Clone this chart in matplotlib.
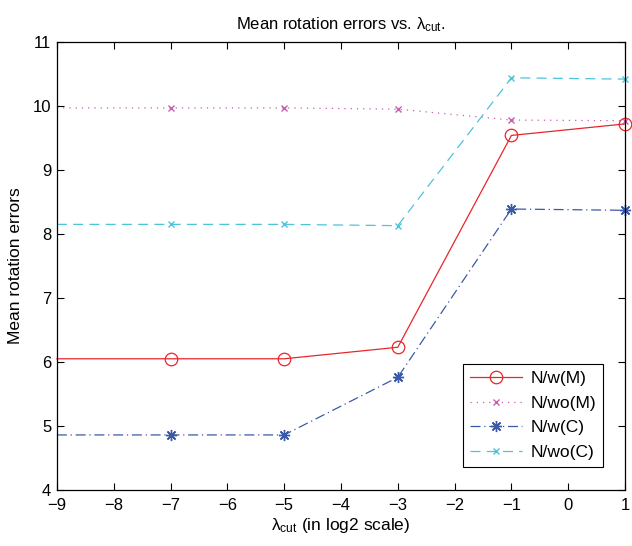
import matplotlib
matplotlib.use("Agg")
import matplotlib.pyplot as plt

plt.rcParams['font.family'] = ['Liberation Sans', 'DejaVu Sans']
plt.rcParams['mathtext.fontset'] = 'custom'
plt.rcParams['mathtext.rm'] = 'Liberation Sans'
plt.rcParams['mathtext.it'] = 'Liberation Sans'

# lambda_cut values (log2 scale)
lam = [-9, -7, -5, -3, -1, 1]

w_M = [6.05, 6.05, 6.05, 6.23, 9.54, 9.72]
wo_M = [9.97, 9.97, 9.97, 9.95, 9.78, 9.77]
w_C = [4.86, 4.86, 4.86, 5.76, 8.39, 8.37]
wo_C = [8.15, 8.15, 8.15, 8.13, 10.44, 10.42]

labels = ["N/w(M)", "N/wo(M)", "N/w(C)", "N/wo(C)"]

fig = plt.figure(figsize=(6.32, 5.46), dpi=100)
ax = fig.add_axes([0.090, 0.1026, 0.899, 0.8205])

# no marker on the first point (x = -9)
mk = list(range(1, len(lam)))
ax.plot(lam, w_M, color='#e8262b', linestyle='-', lw=0.9, marker='o', ms=9,
        mfc='none', mew=0.9, markevery=mk, label=labels[0], clip_on=False)
ax.plot(lam, wo_M, color='#c75fae', linestyle=(0, (1, 4)), lw=0.9, marker='x', ms=5,
        mew=1.0, markevery=mk, label=labels[1], clip_on=False)
ax.plot(lam, w_C, color='#3a5aa8', linestyle=(0, (8, 3, 1, 3)), lw=0.9, marker=(8, 2, 0), ms=8,
        mew=1.0, markevery=mk, label=labels[2], clip_on=False)
ax.plot(lam, wo_C, color='#4ec3dc', linestyle=(0, (8, 5)), lw=0.9, marker='x', ms=5,
        mew=1.0, markevery=mk, label=labels[3], clip_on=False)

ax.set_xlim(-9, 1)
ax.set_ylim(4, 11)
ax.set_xticks(range(-9, 2))
ax.set_yticks(range(4, 12))
ax.tick_params(direction='in', top=True, right=True, labelsize=12, length=5, width=0.8)
ax.tick_params(axis='x', pad=6)
ax.tick_params(axis='y', pad=4)
for s in ax.spines.values():
    s.set_linewidth(0.9)

ax.set_xlabel(r"$\lambda_{\mathrm{cut}}$ (in log2 scale)", fontsize=12.5, labelpad=2)
ax.set_ylabel("Mean rotation errors", fontsize=12.5, labelpad=7)
ax.set_title(r"Mean rotation errors vs. $\lambda_{\mathrm{cut}}$.", fontsize=12, pad=9)

leg = ax.legend(loc='lower right', bbox_to_anchor=(0.961, 0.051), borderaxespad=0,
                fontsize=12.5, fancybox=False, edgecolor='black', framealpha=1,
                handlelength=3.0, handletextpad=0.5, borderpad=0.4, labelspacing=0.55)
leg.get_frame().set_linewidth(0.8)

fig.savefig("out.png", dpi=100)
